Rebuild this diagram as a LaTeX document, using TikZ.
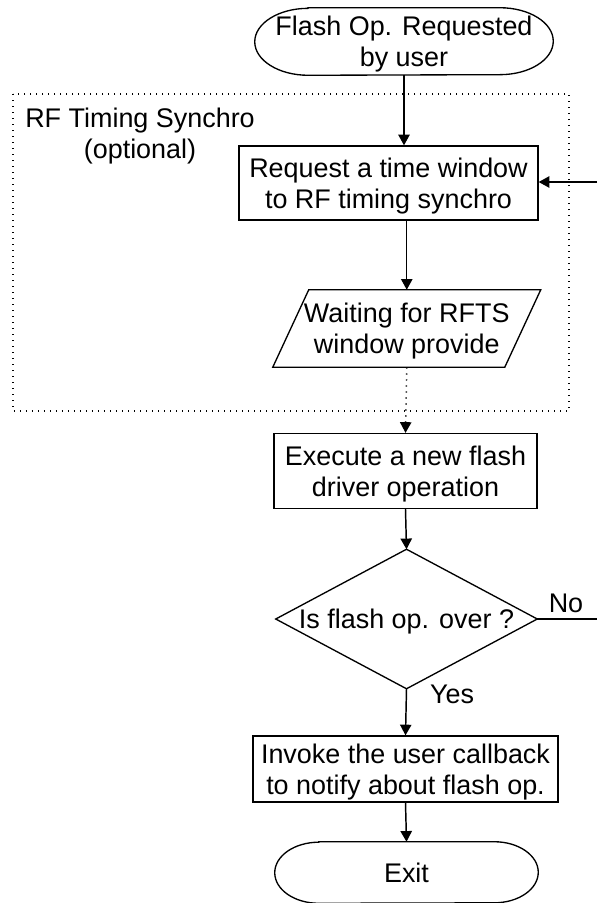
\documentclass[tikz,border=0pt]{standalone}
\usepackage{fontspec}
\setmainfont{Liberation Sans}
\usetikzlibrary{arrows.meta}

% rounded terminator outline around a node: name, end x radius, end y radius
\newcommand\terminatorpath[3]{%
  \draw[shapeline] ([xshift=#2]#1.north west) -- ([xshift=-#2]#1.north east)
    arc[start angle=90,end angle=-90,x radius=#2,y radius=#3]
    -- ([xshift=#2]#1.south west)
    arc[start angle=270,end angle=90,x radius=#2,y radius=#3] -- cycle;}

\begin{document}
\begin{tikzpicture}[x=0.75pt,y=-0.75pt,
  every node/.style={font=\fontsize{20.2}{23.5}\selectfont, align=center, inner sep=0pt,
    text depth=0pt},
  shapeline/.style={line width=1pt},
  box/.style={draw, line width=1pt},
  plain/.style={draw=none},
  arr/.style={line width=1.1pt, -{Triangle[length=8pt,width=8.5pt]}},
  conn/.style={line width=1.1pt},
  dotline/.style={line width=1.1pt, dash pattern=on 1.1pt off 3.4pt},
  frame/.style={line width=1.1pt, dash pattern=on 1.1pt off 3.4pt}]

\useasboundingbox (0,0) rectangle (597,903);

% optional synchronisation frame
\draw[frame] (13,94) rectangle (569,411);
\node (rflabel) at (140,133) {RF Timing Synchro\\(optional)};

% start terminator
\node[plain, minimum width=223.5pt, minimum height=50.25pt] (start) at (404,41.5)
  {Flash Op. Requested\\by user};
\terminatorpath{start}{40pt}{25.1pt}

\node[box, minimum width=224.25pt, minimum height=55.5pt] (req) at (388.5,183)
  {Request a time window\\to RF timing synchro};
\coordinate (retry) at (597,182);

% waiting parallelogram
\node[plain, minimum width=173.6pt, minimum height=57.75pt] (para) at (406.75,328.5)
  {Waiting for RFTS\\window provide};
\draw[shapeline] ([xshift=13.5pt]para.north west) -- ([xshift=13.5pt]para.north east)
  -- ([xshift=-13.5pt]para.south east) -- ([xshift=-13.5pt]para.south west) -- cycle;

\node[box, minimum width=197.25pt, minimum height=56.25pt] (exec) at (405.5,471)
  {Execute a new flash\\driver operation};

% decision diamond
\node[plain, minimum width=195.75pt, minimum height=104.25pt] (dec) at (406.5,619)
  {Is flash op. over ?};
\draw[shapeline] (dec.north) -- (dec.east) -- (dec.south) -- (dec.west) -- cycle;
\coordinate (noend) at (597,619);

\node[box, minimum width=228.75pt, minimum height=49.5pt] (inv) at (405.5,769)
  {Invoke the user callback\\to notify about flash op.};

\node[plain, minimum width=197.25pt, minimum height=45.75pt] (exit) at (406.5,872.5) {Exit};
\terminatorpath{exit}{33pt}{22.9pt}

% connectors
\draw[arr] (start.south) -- (start.south |- req.north);
\draw[arr] (retry) -- (req.east |- retry);
\draw[arr] (req.south -| para.north) -- (para.north);
\draw[dotline, -{Triangle[length=8pt,width=8.5pt]}] (para.south) -- (exec.north);
\draw[arr] (exec.south) -- (dec.north);
\draw[conn] (dec.east) -- (noend);
\node (nolab) at (566,603) {No};
\draw[arr] (dec.south) -- (inv.north);
\node (yeslab) at (452,694) {Yes};
\draw[arr] (inv.south) -- (exit.north);
\end{tikzpicture}
\end{document}
